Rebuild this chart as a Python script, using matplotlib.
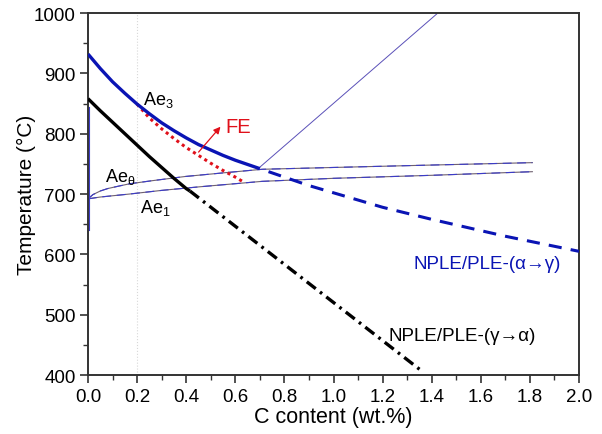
import matplotlib
matplotlib.use("Agg")
import matplotlib.pyplot as plt
import numpy as np

plt.rcParams['font.family'] = ['Liberation Sans', 'DejaVu Sans']
plt.rcParams['mathtext.fontset'] = 'custom'
plt.rcParams['mathtext.rm'] = 'Liberation Sans'
plt.rcParams['mathtext.it'] = 'Liberation Sans'

# Ae3 (solid, thick blue)
ae3_x = [0.0, 0.05, 0.1, 0.15, 0.2, 0.25, 0.3, 0.35, 0.4, 0.45, 0.5, 0.55, 0.6, 0.65, 0.70]
ae3_t = [932, 908, 886, 867, 849, 833, 818, 805, 793, 782, 773, 764, 756, 749, 742]
# NPLE/PLE (alpha->gamma) dashed extension
npa_x = [0.70, 0.9, 1.2, 1.4, 1.7, 2.0]
npa_t = [742, 714, 678, 658, 630, 605]
# NPLE/PLE (gamma->alpha) solid black
npg_x = [0.0, 0.05, 0.1, 0.15, 0.2, 0.25, 0.3, 0.35, 0.4, 0.415]
npg_t = [858, 838, 819, 800, 781, 762, 744, 726, 709, 705]
# dash-dot continuation
npg2_x = [0.415, 1.352]
npg2_t = [705, 409]
# FE red dotted
fe_x = [0.2, 0.25, 0.3, 0.35, 0.4, 0.45, 0.5, 0.55, 0.6, 0.633]
fe_t = [849, 826, 808, 792, 777, 764, 751, 739, 728, 720]
# Ae_theta (thin upper)
aeth_x = [0.0, 0.02, 0.05, 0.08, 0.124, 0.17, 0.26, 0.395, 0.55, 0.71, 1.0, 1.4, 1.81]
aeth_t = [692, 699, 705, 709, 713, 717, 722, 729, 735, 741, 744, 748, 752]
# Ae1 (thin lower)
ae1_x = [0.0, 0.05, 0.17, 0.3, 0.456, 0.71, 1.0, 1.4, 1.81]
ae1_t = [692, 695, 700, 706, 712, 721, 726, 731, 737]
# steep thin line
steep_x = [0.69, 1.425]
steep_t = [741, 1000]
# vertical thin line near x=0
vert_x = [0.004, 0.004]
vert_t = [640, 845]

fig = plt.figure(figsize=(6.02, 4.35), dpi=100)
ax = fig.add_axes([0.1462, 0.1356, 0.8156, 0.8322])

blue = '#0a14b4'
thin_blue = '#3c3cc8'
ax.axvline(0.2, color='#d8d8d8', lw=0.8, ls=':', zorder=0)

for xs, ts in [(aeth_x, aeth_t), (ae1_x, ae1_t)]:
    ax.plot(xs, ts, color='#6e6070', lw=0.8, zorder=1)
    ax.plot(xs, ts, color=thin_blue, lw=0.8, dashes=(8, 5), zorder=2)
ax.plot(steep_x, steep_t, color='#5a50b8', lw=0.7, zorder=2)
ax.plot(vert_x, vert_t, color=thin_blue, lw=0.8, zorder=2)

ax.plot(ae3_x, ae3_t, color=blue, lw=2.4, zorder=4, solid_capstyle='butt')
ax.plot(npa_x, npa_t, color=blue, lw=2.2, ls=(4.3, (4.3, 3.0)), zorder=4)
ax.plot(npg_x, npg_t, color='black', lw=2.4, zorder=4, solid_capstyle='butt')
ax.plot(npg2_x, npg2_t, color='black', lw=2.4, ls=(0, (3.4, 1.6, 0.8, 1.6)), zorder=4)
ax.plot(fe_x, fe_t, color='#e0101a', lw=2.2, ls=(0, (1, 1.2)), zorder=3)

ax.annotate('', xy=(0.547, 815), xytext=(0.443, 766),
            arrowprops=dict(arrowstyle='-|>', color='#e0101a', lw=0.9,
                            mutation_scale=10), zorder=5)
ax.text(0.558, 812, 'FE', color='#e0101a', fontsize=14.5, va='center', ha='left')

ax.text(0.224, 849, r'Ae$_3$', fontsize=13, ha='left', va='baseline')
ax.text(0.069, 721, r'Ae$_\theta$', fontsize=13, ha='left', va='baseline')
ax.text(0.212, 671, r'Ae$_1$', fontsize=13, ha='left', va='baseline')
ax.text(1.324, 578, 'NPLE/PLE-(α→γ)', color=blue, fontsize=13.5,
        ha='left', va='baseline')
ax.text(1.222, 458, 'NPLE/PLE-(γ→α)', color='black', fontsize=13.5,
        ha='left', va='baseline')

ax.set_xlim(0, 2.0)
ax.set_ylim(400, 1000)
ax.set_xticks(np.arange(0, 2.01, 0.2))
ax.set_xticklabels([f'{v:.1f}' for v in np.arange(0, 2.01, 0.2)])
ax.set_xticks(np.arange(0.1, 2.0, 0.2), minor=True)
ax.set_yticks(np.arange(400, 1001, 100))
ax.set_yticks(np.arange(450, 1000, 100), minor=True)
ax.tick_params(which='major', direction='out', length=6, width=1.2,
               labelsize=13.5, color='#333333', top=False, right=False, pad=3)
ax.tick_params(which='minor', direction='out', length=3.5, width=1.0,
               color='#333333', top=False, right=False)
for s in ax.spines.values():
    s.set_linewidth(1.4)
    s.set_color('#333333')

ax.set_xlabel('C content (wt.%)', fontsize=15.5, labelpad=1)
ax.set_ylabel('Temperature (°C)', fontsize=15, labelpad=-2)

fig.savefig('out.png', dpi=100)
